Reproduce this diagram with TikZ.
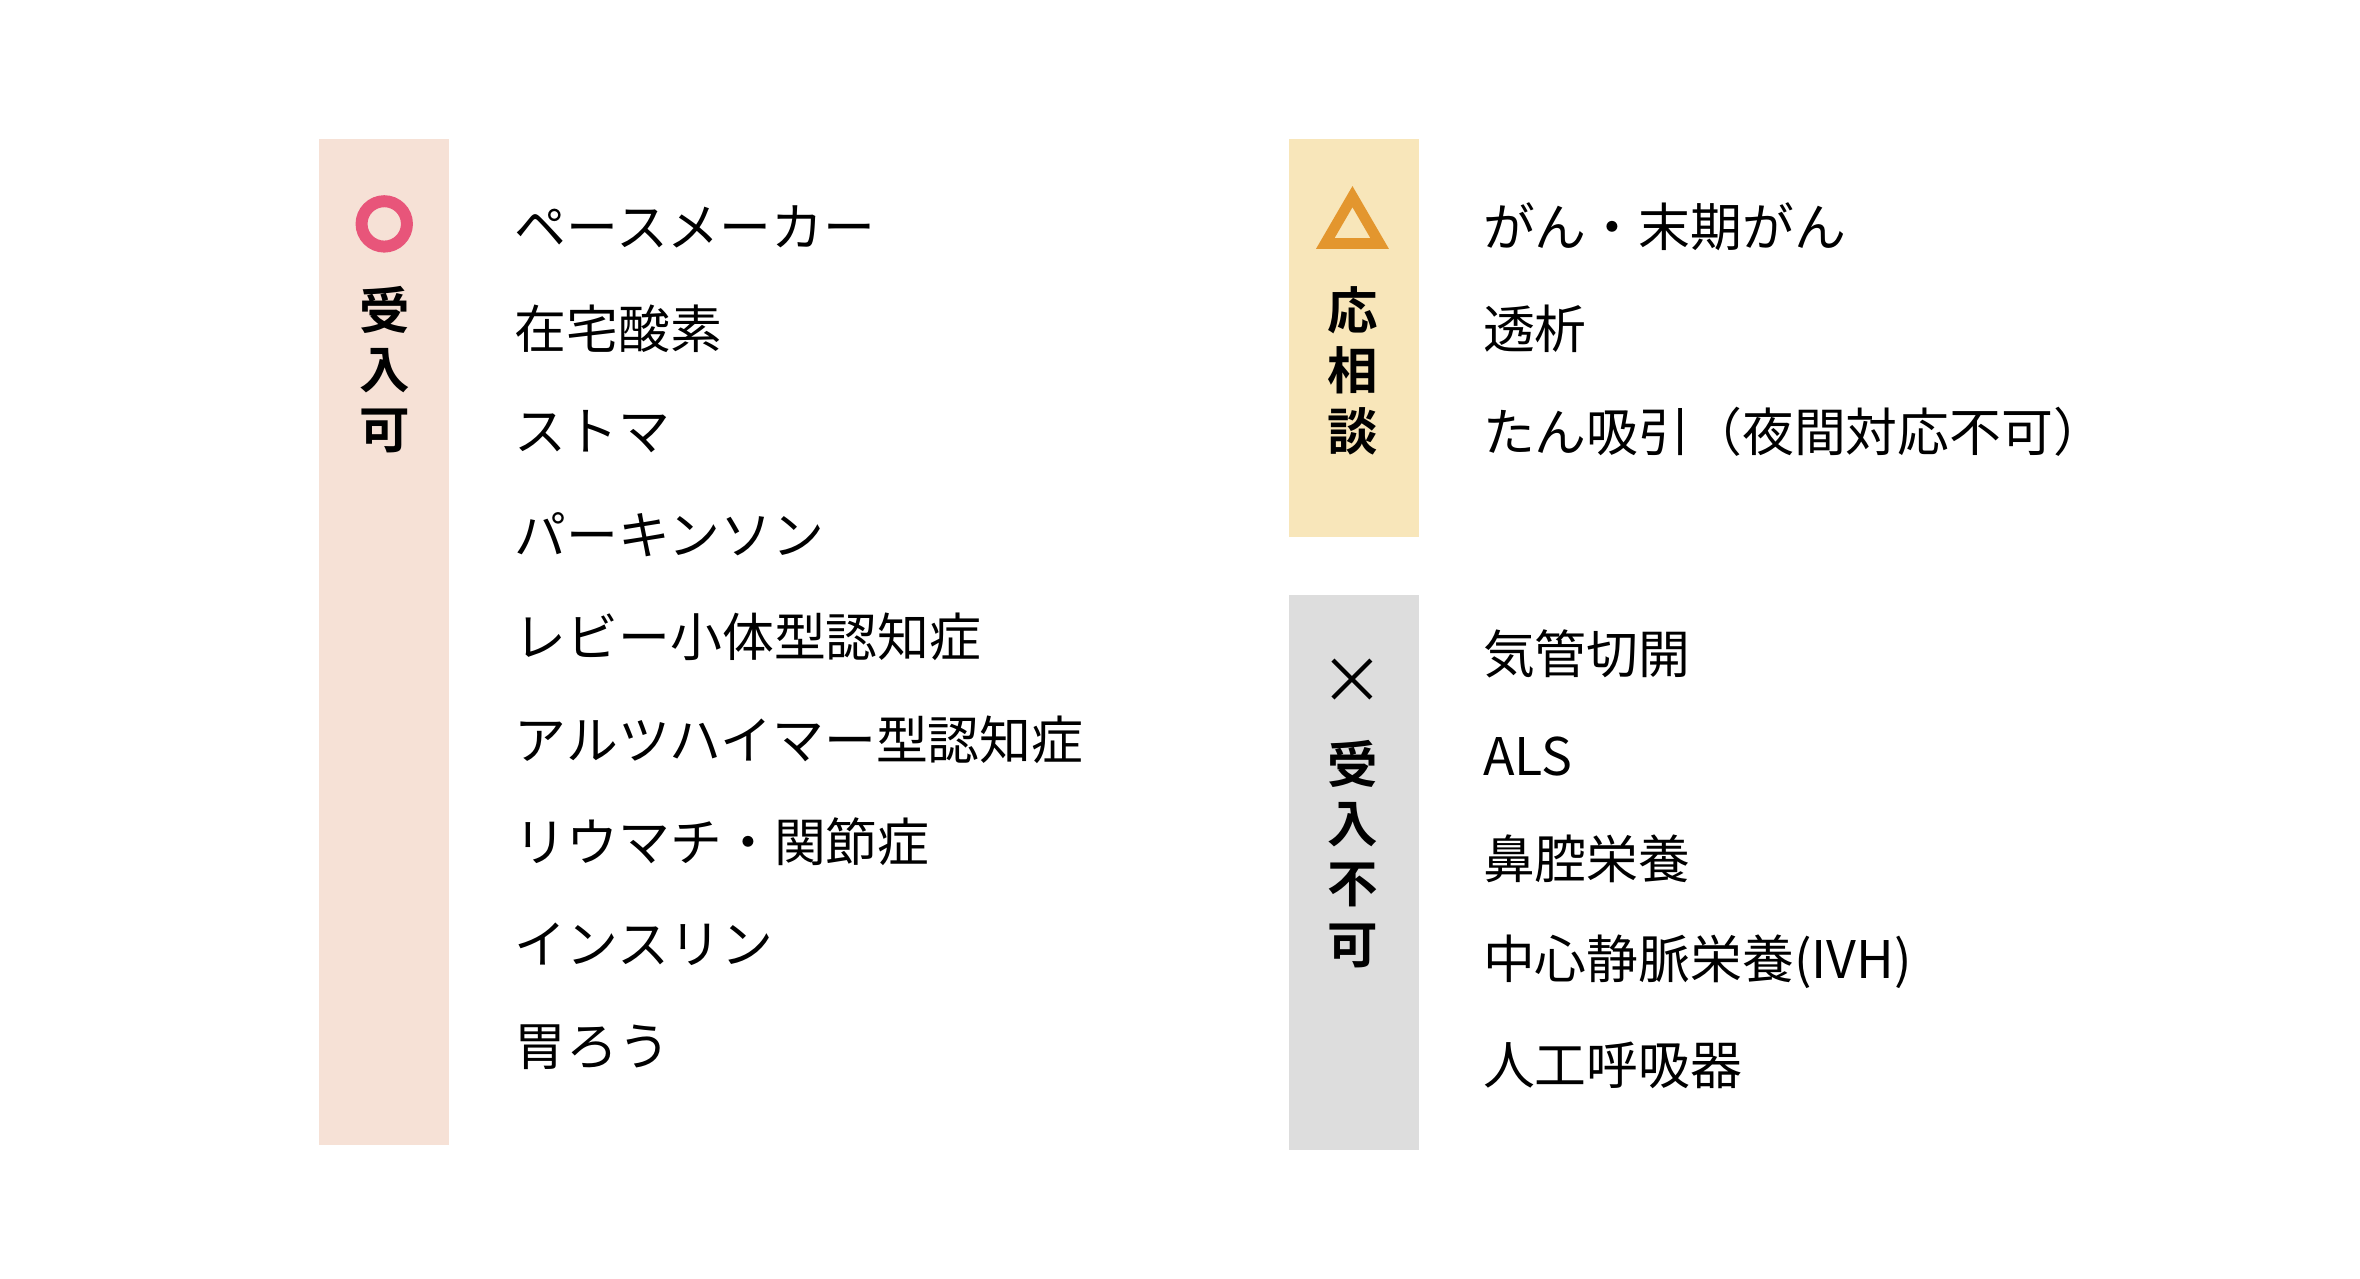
\documentclass[tikz,border=0pt]{standalone}
\usepackage{fontspec}
\setmainfont{Noto Sans CJK JP}[BoldFont={Noto Sans CJK JP Bold}]
\definecolor{okbar}{HTML}{F6E1D6}
\definecolor{askbar}{HTML}{F8E6BA}
\definecolor{ngbar}{HTML}{DDDDDD}
\definecolor{okmark}{HTML}{E8557A}
\definecolor{askmark}{HTML}{E3962E}
\begin{document}
\begin{tikzpicture}[x=0.02cm,y=-0.02cm,
  barbox/.style={fill=#1, draw=none},
  itemtext/.style={anchor=west, inner sep=0pt, font=\fontsize{19.5}{20}\selectfont},
  headchar/.style={inner sep=0pt, font=\fontsize{19}{20}\selectfont\bfseries},
]
  \useasboundingbox (0,0) rectangle (1560,845);

  \fill[okbar] (211,92) rectangle (297,757);
  \fill[askbar] (852,92) rectangle (938,355);
  \fill[ngbar] (852,393) rectangle (938,760);

  % marks
  \draw[okmark, line width=4.5pt] (254,148) circle (15);
  \draw[askmark, line width=4pt, line join=miter] (876,161) -- (912,161) -- (894,130) -- cycle;
  \node[headchar, font=\fontsize{24}{24}\selectfont] (ngmark) at (894,450) {×};

  % heads
  \foreach \c [count=\i] in {受,入,可}
    \node[headchar] (ok\i) at (254,165+40*\i) {\c};
  \foreach \c [count=\i] in {応,相,談}
    \node[headchar] (ask\i) at (894,165+40*\i) {\c};
  \foreach \c [count=\i] in {受,入,不,可}
    \node[headchar] (ng\i) at (894,465+40*\i) {\c};

  % items
  \foreach \t [count=\i] in {ペースメーカー,在宅酸素,ストマ,パーキンソン,レビー小体型認知症,アルツハイマー型認知症,リウマチ・関節症,インスリン,胃ろう}
    \node[itemtext] (okitem\i) at (340,82+67.8*\i) {\t};
  \foreach \t [count=\i] in {がん・末期がん,透析,たん吸引（夜間対応不可）}
    \node[itemtext] (askitem\i) at (980,82+67.8*\i) {\t};
  \foreach \t [count=\i] in {気管切開,ALS,鼻腔栄養,中心静脈栄養(IVH),人工呼吸器}
    \node[itemtext] (ngitem\i) at (980,364+68*\i) {\t};
\end{tikzpicture}
\end{document}
